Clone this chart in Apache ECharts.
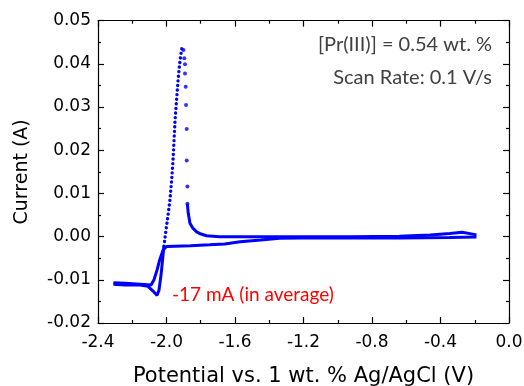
<!DOCTYPE html>
<html>
<head>
<meta charset="utf-8">
<script src="https://cdn.jsdelivr.net/npm/echarts@6/dist/echarts.min.js"></script>
<style>
html,body{margin:0;padding:0;background:#fff;}
#chart{width:524px;height:386px;}
</style>
</head>
<body>
<div id="chart"></div>
<script>
// Cathodic (forward) scan, from -0.19 V to -2.31 V
var fwdV = [-0.19, -0.35, -0.64, -0.93, -1.22, -1.34, -1.45, -1.57, -1.66, -1.75, -1.86, -1.95, -2.00, -2.02, -2.04, -2.055, -2.073, -2.09, -2.155, -2.24, -2.31];
var fwdI = [-0.0001, -0.0002, -0.0003, -0.0003, -0.0003, -0.0004, -0.0008, -0.0012, -0.0017, -0.0019, -0.0021, -0.0022, -0.0023, -0.0031, -0.0054, -0.0077, -0.0100, -0.0112, -0.0110, -0.0108, -0.0107];
// Reverse scan, base of the loop
var revV = [-2.31, -2.24, -2.155, -2.108, -2.079, -2.055, -2.044, -2.032, -2.023, -2.015];
var revI = [-0.0110, -0.0112, -0.0112, -0.0115, -0.0126, -0.0136, -0.0124, -0.0089, -0.0054, -0.0022];
// Rising (stripping) branch up to the peak
var riseV = [-2.015, -2.003, -1.991, -1.980, -1.970, -1.962, -1.950, -1.940, -1.931, -1.921, -1.912, -1.905];
var riseI = [-0.0022, 0.0015, 0.0050, 0.0085, 0.0131, 0.0177, 0.0270, 0.0324, 0.0370, 0.0409, 0.0432, 0.0444];
// Sparse points on the fast decay after the peak
var decV = [-1.901, -1.896, -1.892, -1.892, -1.888, -1.886, -1.882, -1.882, -1.878, -1.878];
var decI = [0.0432, 0.0413, 0.0399, 0.0378, 0.0347, 0.0305, 0.0249, 0.0176, 0.0116, 0.0076];
// Tail of reverse scan back to -0.19 V
var tailV = [-1.878, -1.873, -1.863, -1.845, -1.824, -1.799, -1.766, -1.69, -1.51, -1.22, -0.93, -0.64, -0.46, -0.345, -0.274, -0.228, -0.19];
var tailI = [0.0076, 0.0054, 0.0031, 0.0019, 0.0011, 0.0006, 0.0002, 0.0000, 0.0000, 0.0000, 0.0000, 0.0001, 0.0004, 0.0007, 0.0010, 0.0007, 0.0004];

var xTitle = 'Potential vs. 1 wt. % Ag/AgCl (V)';
var yTitle = 'Current (A)';
var note1 = '[Pr(III)] = 0.54 wt. %';
var note2 = 'Scan Rate: 0.1 V/s';
var note3 = '-17 mA (in average)';

function pairs(a, b) { return a.map(function (v, i) { return [v, b[i]]; }); }

var BLUE = '#0000ff';
var FONT = '"DejaVu Sans", "Liberation Sans", Arial, sans-serif';
var NOTEFONT = 'Lato, "Open Sans", sans-serif';
var chart = echarts.init(document.getElementById('chart'), null, {renderer: 'canvas'});

var axisCommon = {
  axisLine: {show: true, onZero: false, lineStyle: {color: '#000', width: 1.2}},
  axisTick: {show: true, inside: true, length: 6, lineStyle: {color: '#000', width: 1.2}},
  minorTick: {show: true, splitNumber: 2, length: 3, lineStyle: {color: '#000', width: 1.2}},
  splitLine: {show: false}
};

chart.setOption({
  animation: false,
  backgroundColor: '#fff',
  grid: {left: 98, right: 15, top: 20.7, bottom: 63, containLabel: false, outerBoundsMode: 'none'},
  xAxis: [
    Object.assign({}, axisCommon, {
      type: 'value', position: 'bottom', min: -2.4, max: 0, interval: 0.4,
      axisLabel: {show: true, margin: 11, color: '#000', fontSize: 17, fontFamily: FONT,
        formatter: function (v) { return Math.abs(v) < 1e-9 ? '0.0' : v.toFixed(1); }},
      name: xTitle, nameLocation: 'middle', nameGap: 43,
      nameTextStyle: {color: '#000', fontSize: 21, fontFamily: FONT}
    }),
    Object.assign({}, axisCommon, {
      type: 'value', position: 'top', min: -2.4, max: 0, interval: 0.4,
      axisLabel: {show: false}
    })
  ],
  yAxis: [
    Object.assign({}, axisCommon, {
      type: 'value', position: 'left', min: -0.02, max: 0.05, interval: 0.01,
      axisLabel: {show: true, margin: 7, color: '#000', fontSize: 17, fontFamily: FONT,
        formatter: function (v) { return Math.abs(v) < 1e-9 ? '0.00' : v.toFixed(2); }},
      name: yTitle, nameLocation: 'middle', nameGap: 66,
      nameTextStyle: {color: '#000', fontSize: 19, fontFamily: FONT}
    }),
    Object.assign({}, axisCommon, {
      type: 'value', position: 'right', min: -0.02, max: 0.05, interval: 0.01,
      axisLabel: {show: false}
    })
  ],
  series: [
    {type: 'line', data: pairs(fwdV, fwdI), showSymbol: false, smooth: false,
      lineStyle: {color: BLUE, width: 3}, z: 3},
    {type: 'line', data: pairs(revV, revI), showSymbol: false,
      lineStyle: {color: BLUE, width: 3}, z: 3},
    {type: 'line', data: pairs(riseV, riseI), showSymbol: false,
      lineStyle: {color: BLUE, width: 3.4, type: [0.01, 4.6], cap: 'round'}, z: 3},
    {type: 'scatter', data: pairs(decV, decI), symbol: 'circle', symbolSize: 4,
      itemStyle: {color: BLUE}, z: 3},
    {type: 'line', data: pairs(tailV, tailI), showSymbol: false,
      lineStyle: {color: BLUE, width: 3}, z: 3}
  ],
  graphic: [
    {type: 'text', x: 492, y: 45, style: {text: note1, fill: '#404040', align: 'right', verticalAlign: 'middle', font: '20px ' + NOTEFONT}},
    {type: 'text', x: 492, y: 78, style: {text: note2, fill: '#404040', align: 'right', verticalAlign: 'middle', font: '20px ' + NOTEFONT}},
    {type: 'text', x: 172, y: 295, style: {text: note3, fill: '#ff0000', align: 'left', verticalAlign: 'middle', font: '19px ' + NOTEFONT}}
  ]
});
</script>
</body>
</html>
